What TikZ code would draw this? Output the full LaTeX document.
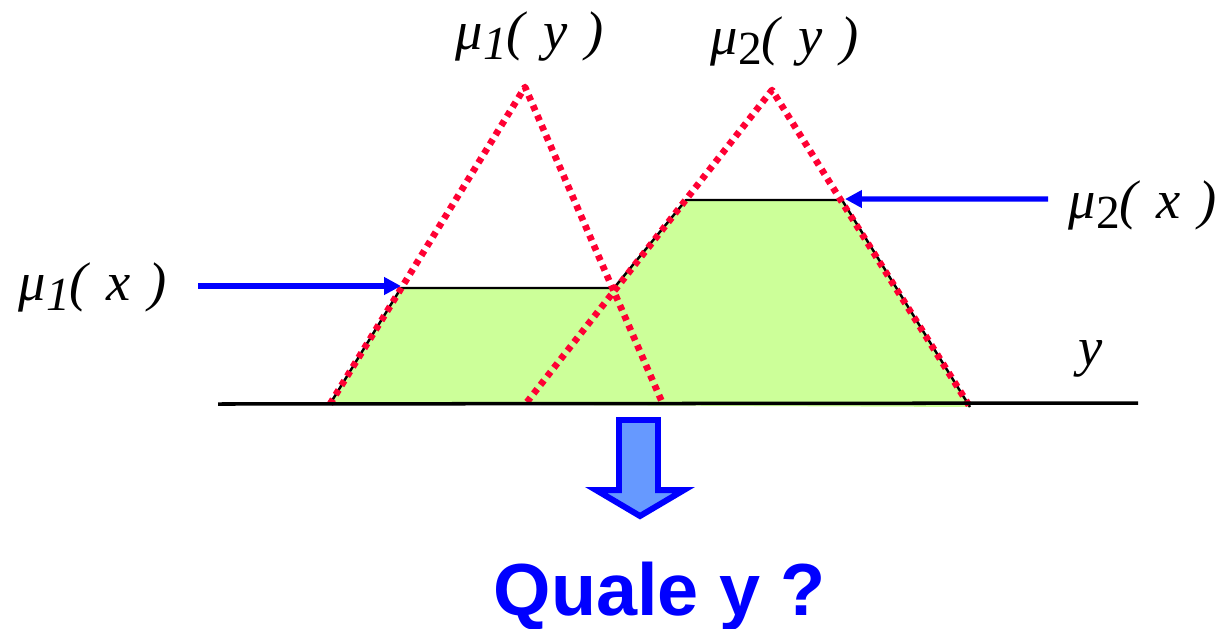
\documentclass[tikz,border=0pt]{standalone}
\usepackage{fontspec}
\setmainfont{Liberation Serif}
\newfontfamily\quafont{Liberation Sans}
\usetikzlibrary{arrows.meta, calc}
\definecolor{fillgreen}{RGB}{204,255,153}
\definecolor{dotred}{RGB}{255,0,51}
\definecolor{arrowblue}{RGB}{102,153,255}
\newcommand{\memb}[2]{\itshape μ\raisebox{-0.2em}{\fontsize{13.5}{14}\selectfont #1}(\,\,#2\,\,)}

\begin{document}
\begin{tikzpicture}[line join=round,
    lab/.style={font=\fontsize{15.5}{19}\selectfont, inner sep=0pt, anchor=base west},
    redtri/.style={dotred, line width=1.9pt, dash pattern=on 1.6pt off 1.5pt},
    bluearrow/.style={blue, line width=1.5pt, -{Triangle[length=4.8pt, width=4.8pt]}}]

    \useasboundingbox (0,0) rectangle (12.18,6.28);

    % Triangles (base, apex, base)
    \coordinate (L1) at (3.30, 2.24);
    \coordinate (A1) at (5.25, 5.41);
    \coordinate (R1) at (6.62, 2.26);
    \coordinate (L2) at (5.27, 2.26);
    \coordinate (A2) at (7.72, 5.38);
    \coordinate (R2) at (9.70, 2.21);

    % Cut tops: mu1(x) at 3.40, mu2(x) at 4.28
    \coordinate (P1) at (4.01, 3.40);
    \coordinate (Q)  at (6.14, 3.40);
    \coordinate (P2) at (6.86, 4.28);
    \coordinate (P3) at (8.42, 4.28);

    % Axis ends and free arrow ends
    \coordinate (Y0) at (2.18, 2.24);
    \coordinate (Y1) at (11.38, 2.25);
    \coordinate (S1) at (1.98, 3.42);
    \coordinate (S2) at (10.48, 4.29);

    % Clipped union filled first
    \fill[fillgreen] (L1) -- (P1) -- (Q) -- (P2) -- (P3) -- (R2) -- cycle;
    \draw[line width=0.7pt] (L1) -- (P1) -- (Q) -- (P2) -- (P3) -- (R2);

    % Full triangles, dotted red
    \draw[redtri] (L1) -- (A1) -- (R1);
    \draw[redtri] (L2) -- (A2) -- (R2);

    % Axis
    \draw[line width=1pt] (Y0) -- (Y1);

    % Blue arrows pointing at the cut levels
    \draw[bluearrow] (S1) -- (P1 |- S1);
    \draw[bluearrow] (S2) -- ($(P3)+(0.03,0.01)$);

    % Block arrow down
    \coordinate (D1) at (6.19, 2.08);
    \coordinate (D2) at (6.58, 2.08);
    \coordinate (D3) at (6.58, 1.38);
    \coordinate (D4) at (6.84, 1.38);
    \coordinate (D5) at (6.40, 1.12);
    \coordinate (D6) at (5.96, 1.38);
    \coordinate (D7) at (6.19, 1.38);
    \draw[blue, fill=arrowblue, line width=1.7pt, line join=miter]
        (D1) -- (D2) -- (D3) -- (D4) -- (D5) -- (D6) -- (D7) -- cycle;

    % Labels
    \node[lab] (muy1) at (4.55, 5.79) {\memb{1}{y}};
    \node[lab] (muy2) at (7.10, 5.74) {\memb{\upshape 2}{y}};
    \node[lab] (mux1) at (0.18, 3.28) {\memb{1}{x}};
    \node[lab] (mux2) at (10.68, 4.10) {\memb{\upshape 2}{x}};
    \node[lab] (yax)  at (10.78, 2.63) {\itshape y};
    \node[font=\quafont\bfseries\fontsize{21}{25}\selectfont, text=blue, anchor=base, inner sep=0pt]
        (quale) at (6.60, 0.13) {Quale y ?};

\end{tikzpicture}
\end{document}
